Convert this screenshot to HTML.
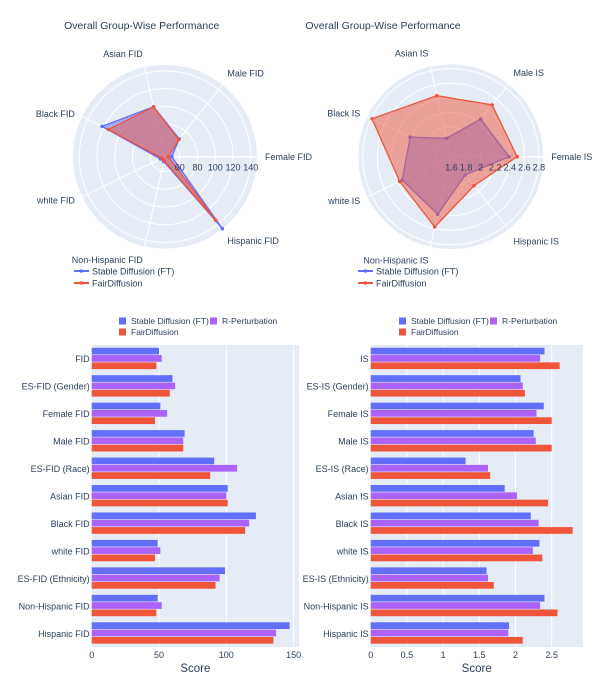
<!DOCTYPE html>
<html><head><meta charset="utf-8"><style>
html,body{margin:0;padding:0;background:#fff;}
svg{display:block;font-family:"Liberation Sans",sans-serif;}
</style></head><body>
<svg id="chart" width="615" height="682" viewBox="0 0 615 682" xmlns="http://www.w3.org/2000/svg"></svg>
<script>
// ---- data ----
const radarCatsFID = ["Female FID","Male FID","Asian FID","Black FID","white FID","Non-Hispanic FID","Hispanic FID"];
const radarSDFID = [51, 69, 101, 122, 49, 49, 147];
const radarFDFID = [47, 68, 101, 114, 47, 48, 135];
const radarTicksFID = [60, 80, 100, 120, 140];
const radarCatsIS = ["Female IS","Male IS","Asian IS","Black IS","white IS","Non-Hispanic IS","Hispanic IS"];
const radarSDIS = [2.39, 2.25, 1.85, 2.21, 2.33, 2.40, 1.91];
const radarFDIS = [2.50, 2.50, 2.45, 2.79, 2.37, 2.58, 2.10];
const radarTicksIS = [1.6, 1.8, 2, 2.2, 2.4, 2.6, 2.8];

const barCatsFID = ["FID","ES-FID (Gender)","Female FID","Male FID","ES-FID (Race)","Asian FID","Black FID","white FID","ES-FID (Ethnicity)","Non-Hispanic FID","Hispanic FID"];
const barSDFID = [50, 60, 51, 69, 91, 101, 122, 49, 99, 49, 147];
const barRPFID = [52, 62, 56, 68, 108, 100, 117, 51, 95, 52, 137];
const barFDFID = [48, 58, 47, 68, 88, 101, 114, 47, 92, 48, 135];
const barTicksFID = [0, 50, 100, 150];
const barCatsIS = ["IS","ES-IS (Gender)","Female IS","Male IS","ES-IS (Race)","Asian IS","Black IS","white IS","ES-IS (Ethnicity)","Non-Hispanic IS","Hispanic IS"];
const barSDIS = [2.40, 2.07, 2.39, 2.25, 1.31, 1.85, 2.21, 2.33, 1.60, 2.40, 1.91];
const barRPIS = [2.34, 2.10, 2.29, 2.28, 1.62, 2.02, 2.32, 2.24, 1.62, 2.34, 1.90];
const barFDIS = [2.61, 2.13, 2.50, 2.50, 1.65, 2.45, 2.79, 2.37, 1.70, 2.58, 2.10];
const barTicksIS = [0, 0.5, 1, 1.5, 2, 2.5];

const BLUE="#636efa", PURPLE="#ab63fa", RED="#EF553B", TXT="#2a3f5f", BG="#E5ECF6";
const NS="http://www.w3.org/2000/svg";
const svg=document.getElementById('chart');
function mk(tag,attrs,parent,text){const e=document.createElementNS(NS,tag);for(const k in attrs)e.setAttribute(k,attrs[k]);if(text!==undefined)e.textContent=text;(parent||svg).appendChild(e);return e;}

function radar(cx,cy,R,rmin,rmax,cats,sd,fd,ticks,title,titleX,legX,name){
  const g=mk('g',{});
  
  
  const t=mk('text',{x:titleX,y:29,'font-size':10.5,fill:TXT,'text-anchor':'middle'},g,title);
  
  
  const bg=mk('circle',{cx:cx,cy:cy,r:R,fill:BG},g);
  
  
  const rs=v=>(v-rmin)/(rmax-rmin)*R;
  ticks.forEach(v=>{const r=rs(v);if(r>0&&r<R)mk('circle',{cx:cx,cy:cy,r:r,fill:'none',stroke:'#fff','stroke-width':1},g);});
  const n=cats.length;
  const ang=i=>i*2*Math.PI/n;
  cats.forEach((c,i)=>{
    const a=ang(i);
    mk('line',{x1:cx,y1:cy,x2:cx+R*Math.cos(a),y2:cy-R*Math.sin(a),stroke:'#fff','stroke-width':1},g);
    const lr=R+8, lx=cx+lr*Math.cos(a), ly=cy-lr*Math.sin(a);
    const ca=Math.cos(a);
    const anchor=ca>0.2?'start':(ca<-0.2?'end':'middle');
    const dy=Math.sin(a)>0.5?-2:(Math.sin(a)<-0.5?9:3.5);
    const lab=mk('text',{x:lx,y:ly+dy,'font-size':9,fill:TXT,'text-anchor':anchor},g,c);
    
    
  });
  mk('line',{x1:cx,y1:cy,x2:cx+R,y2:cy,stroke:'#fff','stroke-width':1.5},g);
  function poly(vals,col,fill,nm){
    const pts=vals.map((v,i)=>{const r=rs(v),a=ang(i);return [cx+r*Math.cos(a),cy-r*Math.sin(a)];});
    const p=mk('polygon',{points:pts.map(p=>p.join(',')).join(' '),fill:fill,stroke:col,'stroke-width':1.3},g);
    
    
    pts.forEach(q=>mk('circle',{cx:q[0],cy:q[1],r:1.8,fill:col},g));
  }
  poly(sd,BLUE,'rgba(99,110,250,0.5)',name+'-sd-series');
  poly(fd,RED,'rgba(239,85,59,0.5)',name+'-fd-series');
  ticks.forEach(v=>{const r=rs(v);const tl=mk('text',{x:cx+r,y:cy+14,'font-size':9,fill:TXT,'text-anchor':'middle'},g,String(v));
    
    });
  [[BLUE,'Stable Diffusion (FT)',271],[RED,'FairDiffusion',283]].forEach(([c,l,y])=>{
    const lg=mk('g',{},g);
    
    
    mk('line',{x1:legX,y1:y,x2:legX+15,y2:y,stroke:c,'stroke-width':2},lg);
    mk('circle',{cx:legX+7.5,cy:y,r:1.8,fill:c},lg);
    mk('text',{x:legX+18,y:y+3.5,'font-size':9,fill:TXT},lg,l);
  });
}

function bars(x0,x1,vmax,cats,sd,rp,fd,ticks,legX,name){
  const g=mk('g',{});
  
  
  const top=345,bot=647;
  const bg=mk('rect',{x:x0,y:top,width:x1-x0,height:bot-top,fill:BG},g);
  
  
  const xs=v=>x0+v/vmax*(x1-x0);
  ticks.forEach(v=>{
    if(v>0)mk('line',{x1:xs(v),y1:top,x2:xs(v),y2:bot,stroke:'#fff','stroke-width':1},g);
    const tl=mk('text',{x:xs(v),y:bot+11,'font-size':9,fill:TXT,'text-anchor':'middle'},g,String(v));
    
    
  });
  const band=(bot-top)/cats.length, bw=band*0.8/3;
  cats.forEach((c,i)=>{
    const y0=top+i*band+band*0.1;
    [[sd,BLUE],[rp,PURPLE],[fd,RED]].forEach(([arr,col],k)=>{
      const r=mk('rect',{x:x0,y:y0+k*bw,width:xs(arr[i])-x0,height:bw-0.6,fill:col},g);
      
      
    });
    const lab=mk('text',{x:x0-2,y:top+i*band+band/2+3.5,'font-size':9,fill:TXT,'text-anchor':'end'},g,c);
    
    
  });
  const xt=mk('text',{x:(x0+x1)/2,y:672,'font-size':11.5,fill:TXT,'text-anchor':'middle'},g,'Score');
  
  
  [[BLUE,'Stable Diffusion (FT)',legX,321],[PURPLE,'R-Perturbation',legX+91,321],[RED,'FairDiffusion',legX,332]].forEach(([c,l,x,y])=>{
    const lg=mk('g',{},g);
    
    
    mk('rect',{x:x-3,y:y-3.5,width:7,height:7,fill:c},lg);
    mk('text',{x:x+9,y:y+3.2,'font-size':8.5,fill:TXT},lg,l);
  });
}

radar(165,156.7,92,43.3,147,radarCatsFID,radarSDFID,radarFDFID,radarTicksFID,'Overall Group-Wise Performance',141.7,74,'radar-fid');
radar(450.8,156.7,92.5,1.59,2.86,radarCatsIS,radarSDIS,radarFDIS,radarTicksIS,'Overall Group-Wise Performance',383,358,'radar-is');
bars(91.7,299,154,barCatsFID,barSDFID,barRPFID,barFDFID,barTicksFID,122,'bar-chart-fid');
bars(370.7,582.7,2.928,barCatsIS,barSDIS,barRPIS,barFDIS,barTicksIS,402,'bar-chart-is');
</script>
</body></html>
